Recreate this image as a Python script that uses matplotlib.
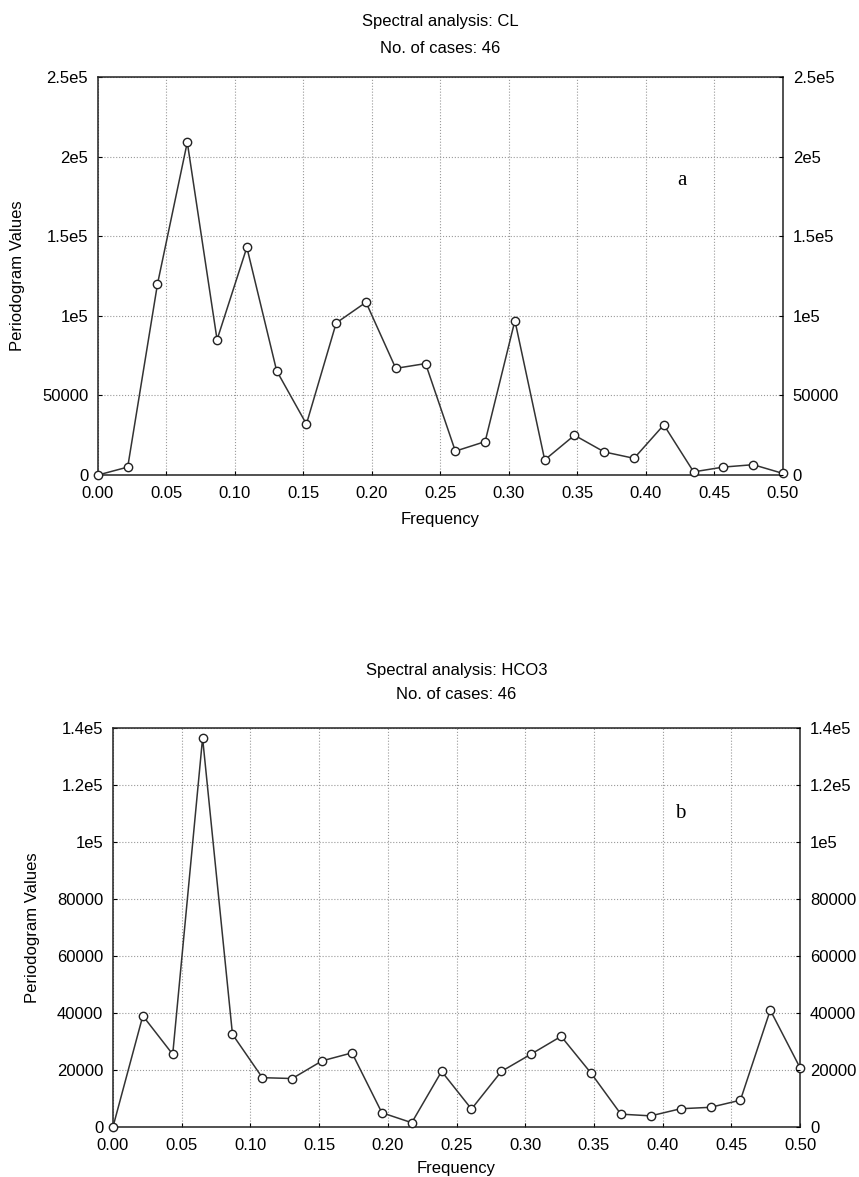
import numpy as np
import matplotlib.pyplot as plt

plt.rcParams["font.family"] = ["Liberation Sans", "DejaVu Sans"]
plt.rcParams["font.size"] = 12

# frequencies k/46, k = 0..23
freq = np.arange(24) / 46.0

cl_values = [0, 5000, 120000, 209000, 85000, 143000, 65500, 32000,
             95500, 108500, 67000, 70000, 15000, 21000, 97000, 9500,
             25000, 14500, 10500, 31500, 2000, 5000, 6500, 1000]

hco3_values = [0, 39000, 25500, 136500, 32500, 17300, 17000, 23200,
               26000, 5000, 1500, 19500, 6300, 19500, 25600, 31800,
               18900, 4500, 3900, 6400, 6900, 9400, 41000, 20700]

panels = [
    dict(title="Spectral analysis: CL", vals=cl_values, ymax=250000,
         yticks=[0, 50000, 100000, 150000, 200000, 250000],
         ylabels=["0", "50000", "1e5", "1.5e5", "2e5", "2.5e5"],
         letter="a", lx=0.426, ly=1.85e5,
         rect=[0.114, 0.5964, 0.7975, 0.3382], tpad=17, lsp=2.0,
         ylpad=12, xlpad=8),
    dict(title="Spectral analysis: HCO3", vals=hco3_values, ymax=140000,
         yticks=[0, 20000, 40000, 60000, 80000, 100000, 120000, 140000],
         ylabels=["0", "20000", "40000", "60000", "80000", "1e5", "1.2e5", "1.4e5"],
         letter="b", lx=0.413, ly=1.10e5,
         rect=[0.1315, 0.0425, 0.80, 0.339], tpad=21, lsp=1.7,
         ylpad=12, xlpad=6),
]

fig = plt.figure(figsize=(8.59, 11.77), dpi=100)

for p in panels:
    ax = fig.add_axes(p["rect"])
    ax.plot(freq, p["vals"], color="#333333", lw=1.1, marker="o", ms=6,
            mfc="white", mec="#222222", mew=1.0, clip_on=False, zorder=3)
    ax.set_xlim(0, 0.5)
    ax.set_ylim(0, p["ymax"])
    ax.set_xticks(np.arange(0, 0.51, 0.05))
    ax.set_xticklabels([f"{t:.2f}" for t in np.arange(0, 0.51, 0.05)])
    ax.set_yticks(p["yticks"])
    ax.set_yticklabels(p["ylabels"])
    ax.tick_params(direction="in", length=3, labelsize=12)
    ax.tick_params(axis="x", pad=8)
    ax.tick_params(axis="y", pad=7)
    ax.grid(True, ls=":", color="#999999", lw=0.8)
    for s in ax.spines.values():
        s.set_linewidth(1.1)
        s.set_color("#222222")
    ax.set_xlabel("Frequency", fontsize=12, labelpad=p["xlpad"])
    ax.set_ylabel("Periodogram Values", fontsize=12, labelpad=p["ylpad"])
    ax.set_title(p["title"] + "\nNo. of cases: 46", fontsize=12,
                 linespacing=p["lsp"], pad=p["tpad"])
    ax.text(p["lx"], p["ly"], p["letter"], family="Liberation Serif",
            fontsize=15, ha="center", va="center")

    ax2 = ax.twinx()
    ax2.set_ylim(0, p["ymax"])
    ax2.set_yticks(p["yticks"])
    ax2.set_yticklabels(p["ylabels"])
    ax2.tick_params(direction="in", length=3, pad=7, labelsize=12)
    for s in ax2.spines.values():
        s.set_visible(False)

plt.savefig("out.png", dpi=100)
